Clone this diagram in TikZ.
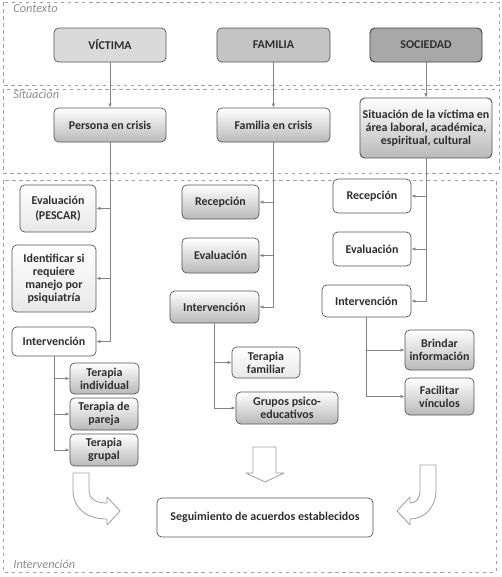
\documentclass[tikz,border=0pt]{standalone}
\usepackage{fontspec}
\setmainfont{Carlito}
\usetikzlibrary{arrows.meta}
\definecolor{boxline}{HTML}{555555}
\definecolor{connline}{HTML}{858585}
\definecolor{frameline}{HTML}{A0A0A0}
\definecolor{txt}{HTML}{2E2E2E}
\definecolor{ctxlight}{HTML}{DADADA}
\definecolor{ctxmid}{HTML}{C4C4C4}
\definecolor{ctxdark}{HTML}{A8A8A8}

\begin{document}
\begin{tikzpicture}[
    x=0.03cm, y=-0.03cm,
    box/.style={rectangle, rounded corners=4pt, draw=boxline, line width=0.6pt, align=center, text=txt, font=\bfseries\fontsize{10.2}{11}\selectfont, inner sep=1pt},
    plain/.style={box, fill=white},
    soft/.style={box, top color=white, bottom color=gray!18},
    grad/.style={box, top color=white, bottom color=gray!55},
    conn/.style={-{Latex[length=3.5pt,width=3pt]}, color=connline, line width=0.6pt},
    frame/.style={draw=frameline, dashed, line width=0.5pt},
    framelabel/.style={anchor=north west, font=\itshape\fontsize{10.5}{11}\selectfont, text=gray!90, inner sep=1pt},
    bigarrow/.style={draw=gray!75, fill=white, line width=0.7pt, line join=round}
]
\useasboundingbox (0,0) rectangle (502,577);

% frames
\draw[frame] (3,2) rectangle (499,85);
\draw[frame] (3,89) rectangle (499,173);
\draw[frame] (3,180) rectangle (496,572);
\node[framelabel] at (12,3) {Contexto};
\node[framelabel] at (12,89) {Situación};
\node[framelabel, anchor=south west] at (12,570) {Intervención};

% contexto
\node[box, fill=ctxlight, minimum width=3.36cm, minimum height=1.02cm] (victima) at (110,45) {VÍCTIMA};
\node[box, fill=ctxmid, minimum width=3.39cm, minimum height=1.02cm] (familia) at (273.5,45) {FAMILIA};
\node[box, fill=ctxdark, draw=black!75, line width=0.8pt, minimum width=3.36cm, minimum height=1.02cm] (sociedad) at (426,45) {SOCIEDAD};

% situacion
\node[grad, minimum width=3.36cm, minimum height=1.02cm] (persona) at (110,125) {Persona en crisis};
\node[grad, minimum width=3.39cm, minimum height=1.02cm] (famcrisis) at (273.5,125) {Familia en crisis};
\node[grad, line width=0.8pt, minimum width=3.96cm, minimum height=1.8cm] (situacion) at (426,128) {Situación de la víctima en\\área laboral, académica,\\espiritual, cultural};

% intervencion - victima
\node[soft, minimum width=2.28cm, minimum height=1.41cm] (evalL) at (58,208.5) {Evaluación\\[2pt](PESCAR)};
\node[soft, minimum width=2.52cm, minimum height=2.01cm] (identL) at (54,278.5) {Identificar si\\requiere\\manejo por\\psiquiatría};
\node[plain, minimum width=2.52cm, minimum height=0.87cm] (intL) at (54,341.5) {Intervención};
\node[grad, minimum width=2.07cm, minimum height=0.93cm] (tind) at (104.5,378.5) {Terapia\\individual};
\node[grad, minimum width=2.04cm, minimum height=0.96cm] (tpar) at (104,414) {Terapia de\\pareja};
\node[grad, minimum width=2.04cm, minimum height=0.96cm] (tgru) at (104,450) {Terapia\\grupal};

% intervencion - familia
\node[grad, minimum width=2.31cm, minimum height=1.02cm] (recM) at (220.5,202) {Recepción};
\node[grad, minimum width=2.31cm, minimum height=1.05cm] (evalM) at (220.5,255.5) {Evaluación};
\node[grad, minimum width=2.67cm, minimum height=0.96cm] (intM) at (214.5,307) {Intervención};
\node[soft, minimum width=2.04cm, minimum height=0.93cm] (tfam) at (266,362.5) {Terapia\\familiar};
\node[grad, minimum width=3.06cm, minimum height=0.96cm] (grupos) at (287,408) {Grupos psico-\\educativos};

% intervencion - sociedad
\node[plain, minimum width=2.34cm, minimum height=1.02cm] (recR) at (372,196) {Recepción};
\node[plain, minimum width=2.34cm, minimum height=1.02cm] (evalR) at (372,249) {Evaluación};
\node[plain, minimum width=2.67cm, minimum height=0.96cm] (intR) at (366.5,301) {Intervención};
\node[grad, minimum width=2.07cm, minimum height=1.2cm] (brindar) at (439.5,350) {Brindar\\información};
\node[grad, minimum width=2.07cm, minimum height=1.11cm] (facilitar) at (439.5,396.5) {Facilitar\\vínculos};

% seguimiento
\node[plain, minimum width=6.48cm, minimum height=1.17cm] (seguim) at (265,517.5) {Seguimiento de acuerdos establecidos};

% connectors
\draw[conn] (victima) -- (persona);
\draw[conn] (familia) -- (famcrisis);
\draw[conn] (sociedad) -- (situacion);

\draw[conn] (persona.south) |- (evalL.east);
\draw[conn] (persona.south) |- (identL.east);
\draw[conn] (persona.south) |- (intL.east);
\draw[conn] (intL.south) |- (tind.west);
\draw[conn] (intL.south) |- (tpar.west);
\draw[conn] (intL.south) |- (tgru.west);

\draw[conn] (famcrisis.south) |- (recM.east);
\draw[conn] (famcrisis.south) |- (evalM.east);
\draw[conn] (famcrisis.south) |- (intM.east);
\draw[conn] (intM.south) |- (tfam.west);
\draw[conn] (intM.south) |- (grupos.west);

\draw[conn] (situacion.south) |- (recR.east);
\draw[conn] (situacion.south) |- (evalR.east);
\draw[conn] (situacion.south) |- (intR.east);
\draw[conn] (intR.south) |- (brindar.west);
\draw[conn] (intR.south) |- (facilitar.west);

% block arrows towards seguimiento
\draw[bigarrow] (73,473) -- (89,473) -- (89,490) .. controls (89,499) and (96,503) .. (107,503)
    -- (107,497) -- (120,511) -- (107,525) -- (107,519) .. controls (86,519) and (73,508) .. (73,490) -- cycle;
\draw[bigarrow] (253,447) -- (276,447) -- (276,473) -- (284,473) -- (265,482) -- (246,473) -- (253,473) -- cycle;
\draw[bigarrow] (420,465) -- (436,465) -- (436,490) .. controls (436,508) and (424,519) .. (410,519)
    -- (410,525) -- (397,511) -- (410,497) -- (410,503) .. controls (416,503) and (420,499) .. (420,490) -- cycle;
\end{tikzpicture}
\end{document}
